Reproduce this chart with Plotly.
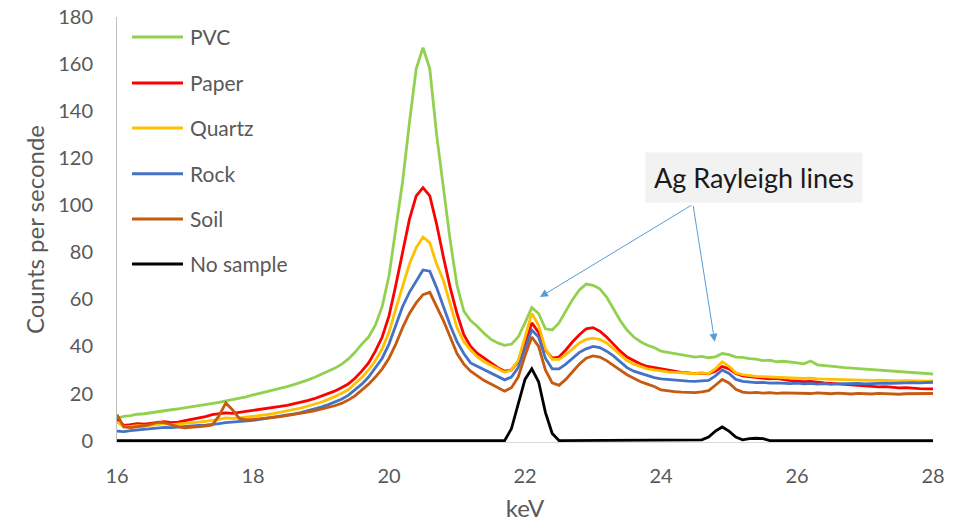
import plotly.graph_objects as go

# Energy axis (keV), 0.1 keV steps from 16 to 28
kev = [round(16 + 0.1 * i, 1) for i in range(121)]

pvc = [
    9.5, 10.3, 10.6, 11.2, 11.4, 11.9, 12.3, 12.6, 13.1, 13.5,
    13.9, 14.4, 14.7, 15.3, 15.8, 16.2, 16.9, 17.4, 17.9, 18.6,
    19.4, 20.1, 20.6, 21.4, 22.1, 22.9, 23.8, 24.6, 25.7, 26.8,
    28.0, 29.3, 30.7, 32.4, 34.6, 37.5, 41.0, 44.0, 49.0, 57.0,
    70, 90, 110, 135, 158, 167, 158, 130, 108, 85,
    66, 55, 51, 48.5, 45.5, 43, 41.5, 40.5, 41, 44,
    50, 56.5, 54, 47.5, 47, 50, 55, 60, 64, 66.5,
    66, 64.5, 61, 56, 51, 47, 44, 42, 40.5, 39.5,
    38, 37.5, 37, 36.5, 36.2, 35.5, 35.8, 35.2, 35.6, 37,
    36.5, 35.5, 35.4, 34.8, 34.6, 34, 34.2, 33.5, 33.7, 33.2,
    33, 32.6, 33.8, 32.2, 32, 31.6, 31.3, 31, 30.8, 30.5,
    30.2, 30, 29.8, 29.5, 29.4, 29.1, 28.9, 28.8, 28.5, 28.4,
    28.3]

paper = [
    9.0, 6.5, 6.8, 7.2, 7.0, 7.4, 7.9, 8.0, 7.6, 7.8,
    8.5, 9.0, 9.5, 10.2, 11.0, 11.4, 11.8, 11.6, 12.0, 12.3,
    12.6, 13.0, 13.5, 13.9, 14.5, 15.0, 15.6, 16.3, 17.0, 17.8,
    18.8, 19.8, 21.0, 22.5, 24.0, 26.5, 29.5, 33, 38, 44,
    53, 66, 80, 94, 104, 107.5, 104, 92, 78, 65,
    54, 45, 40, 37, 35, 33, 31, 29.5, 30, 33.5,
    41, 50, 46, 38.5, 35, 35.5, 38.5, 42, 45, 47.5,
    48, 46.5, 44, 41, 38, 35.5, 34, 32.5, 31.5, 31,
    30.2, 29.8, 29.3, 29, 28.8, 28.5, 28.7, 28.4, 29.5, 31.5,
    30.5, 28.5, 27.5, 27.2, 26.8, 26.5, 26.2, 26.4, 25.8, 25.5,
    25.3, 25, 25.2, 24.7, 24.5, 24.3, 24, 23.8, 23.7, 23.5,
    23.2, 23, 22.8, 22.9, 22.6, 22.4, 22.5, 22.2, 22.1, 22,
    22]

quartz = [
    8.0, 5.8, 6.0, 6.3, 6.2, 6.6, 7.0, 7.2, 6.8, 7.0,
    7.2, 7.5, 7.8, 8.2, 8.5, 9.0, 9.6, 9.4, 9.6, 9.9,
    10.2, 10.6, 11.0, 11.5, 12.0, 12.6, 13.2, 13.8, 14.6, 15.4,
    16.3, 17.4, 18.6, 20, 21.6, 24, 26.8, 30, 34, 39,
    46, 56, 66, 75, 82, 86.5, 84, 75, 68, 58,
    48, 42, 38.5, 35.5, 33.5, 32, 30.5, 29, 30, 34,
    44, 54, 49, 39, 34.5, 34.5, 36.5, 39, 41.5, 43,
    43.5, 43, 41.5, 39, 36.5, 34, 32.5, 31.5, 30.5, 30,
    29.5, 29.2, 29, 28.8, 28.6, 28.4, 28.8, 28.5, 30.5, 33.5,
    31.5, 28.8, 28, 27.6, 27.3, 27.2, 27, 26.8, 26.9, 26.6,
    26.5, 26.4, 26.5, 26.2, 26.1, 26, 25.9, 26, 25.8, 25.7,
    25.8, 25.6, 25.7, 25.5, 25.6, 25.4, 25.5, 25.3, 25.4, 25.3,
    25.4]

rock = [
    4.0, 3.8, 4.2, 4.5, 4.8, 5.0, 5.4, 5.6, 5.5, 5.8,
    6.0, 6.3, 6.5, 6.6, 6.8, 7.2, 7.6, 7.8, 8.0, 8.2,
    8.6, 9.0, 9.4, 9.8, 10.3, 10.8, 11.3, 11.9, 12.6, 13.4,
    14.2, 15.2, 16.3, 17.6, 19.2, 21.5, 24, 27, 31, 35,
    41, 49, 57, 63, 68, 72.5, 72, 65, 57, 49,
    42, 37, 33, 31.5, 30, 28.5, 27, 25.8, 27, 31,
    39, 47, 44, 35, 30.5, 30.5, 32.5, 35, 37.5, 39,
    40, 39.5, 38, 36, 33.5, 31, 29.5, 28.5, 27.5, 26.8,
    26.2, 25.9, 25.6, 25.4, 25.3, 25.2, 25.5, 25.6, 27.5, 30,
    28.5, 26, 25.2, 24.8, 24.6, 24.7, 24.4, 24.5, 24.3, 24.2,
    24.4, 24.1, 24.3, 24.0, 24.2, 23.9, 24.1, 24.2, 24, 24.3,
    24.1, 24.3, 24.2, 24.4, 24.3, 24.5, 24.4, 24.6, 24.5, 24.7,
    24.8]

soil = [
    11.0, 5.8, 5.5, 5.8, 6.3, 7.0, 7.8, 7.6, 6.8, 5.8,
    5.4, 5.6, 5.8, 6.2, 6.6, 10.5, 16.0, 13.0, 9.4, 8.8,
    9.0, 9.2, 9.5, 9.9, 10.2, 10.6, 11.0, 11.5, 12.1, 12.6,
    13.3, 14.0, 14.8, 15.8, 17.2, 19, 21.5, 24, 27, 30.5,
    35, 41, 48, 54, 58.5, 62, 63, 57, 51, 44,
    37, 32.5, 29.5, 27.5, 25.5, 24, 22.5, 21, 22.5, 27,
    36, 44, 40, 30, 24.5, 23.5, 26, 29.5, 32.5, 35,
    36, 35.5, 34, 32, 30, 28, 26.5, 25, 24, 23,
    21.5, 21, 20.8, 20.6, 20.5, 20.4, 20.7, 21.2, 23.5, 26,
    24.5, 21.8, 20.6, 20.3, 20.5, 20.2, 20.4, 20.1, 20.3, 20.2,
    20.4, 20.1, 20.0, 20.3, 20.1, 19.9, 20.2, 20.0, 19.8, 20.1,
    20.0, 19.8, 20.1, 19.9, 20.0, 19.7, 19.9, 20.0, 19.8, 19.9,
    20.0]

no_sample = [
    0, 0, 0, 0, 0, 0, 0, 0, 0, 0,
    0, 0, 0, 0, 0, 0, 0, 0, 0, 0,
    0, 0, 0, 0, 0, 0, 0, 0, 0, 0,
    0, 0, 0, 0, 0, 0, 0, 0, 0, 0,
    0, 0, 0, 0, 0, 0, 0, 0, 0, 0,
    0, 0, 0, 0, 0, 0, 0, 0, 5, 15,
    26, 30.5, 25, 12, 3, 0, 0, 0, 0, 0,
    0, 0, 0, 0, 0, 0, 0, 0, 0, 0,
    0, 0, 0, 0, 0, 0, 0.3, 1.5, 4, 5.8,
    4, 1.5, 0.3, 0.8, 1, 0.8, 0, 0, 0, 0,
    0, 0, 0, 0, 0, 0, 0, 0, 0, 0,
    0, 0, 0, 0, 0, 0, 0, 0, 0, 0,
    0]

series_names = ["PVC", "Paper", "Quartz", "Rock", "Soil", "No sample"]
series_values = [pvc, paper, quartz, rock, soil, no_sample]
series_colors = ["#92d050", "#ff0000", "#ffc000", "#4472c4", "#c55a11", "#000000"]

x_ticks = [16, 18, 20, 22, 24, 26, 28]
y_ticks = [0, 20, 40, 60, 80, 100, 120, 140, 160, 180]

annotation_text = "Ag Rayleigh lines"
arrow_tail = (24.47, 100.4)
arrow_tips = [(22.22, 61.0), (24.79, 42.0)]
label_pos = (25.37, 112.0)

FONT = "Lato"
GREY = "#595959"

fig = go.Figure()
for name, vals, col in zip(series_names, series_values, series_colors):
    fig.add_trace(go.Scatter(x=kev, y=vals, mode="lines", name=name,
                             line=dict(color=col, width=2.8), showlegend=False))

# Custom legend (line samples + labels) in paper coordinates
leg_y = [0.953, 0.845, 0.739, 0.631, 0.525, 0.419]
shapes = []
annotations = []
for name, col, yy in zip(series_names, series_colors, leg_y):
    shapes.append(dict(type="line", xref="paper", yref="paper",
                       x0=0.0184, x1=0.0809, y0=yy, y1=yy,
                       line=dict(color=col, width=3)))
    annotations.append(dict(xref="paper", yref="paper", x=0.0875, y=yy,
                            text=name, showarrow=False, xanchor="left",
                            yanchor="middle",
                            font=dict(family=FONT, size=21, color=GREY)))

annotations.append(dict(x=label_pos[0], y=label_pos[1], xref="x", yref="y",
                        text=annotation_text, showarrow=False,
                        bgcolor="#f2f2f2", borderpad=8,
                        font=dict(family=FONT, size=27, color="#1a1a1a")))
for tx, ty in arrow_tips:
    annotations.append(dict(x=tx, y=ty, xref="x", yref="y",
                            ax=arrow_tail[0], ay=arrow_tail[1],
                            axref="x", ayref="y", text="", showarrow=True,
                            arrowhead=2, arrowsize=1.6, arrowwidth=1,
                            arrowcolor="#5b9bd5", standoff=0, startstandoff=0))

fig.update_layout(
    width=964, height=523,
    margin=dict(l=117, r=31, t=17, b=81),
    paper_bgcolor="white", plot_bgcolor="white",
    font=dict(family=FONT, color=GREY),
    shapes=shapes, annotations=annotations,
    showlegend=False,
)
fig.update_xaxes(range=[16, 28], tickvals=x_ticks, showgrid=False,
                 zeroline=False, showline=True, linecolor="#d9d9d9",
                 linewidth=1, ticks="", ticklabelstandoff=16, automargin=False,
                 tickfont=dict(family=FONT, size=20, color=GREY),
                 title=dict(text="keV", font=dict(family=FONT, size=24, color=GREY),
                            standoff=14))
fig.update_yaxes(range=[-0.6, 180], tickvals=y_ticks, showgrid=False,
                 zeroline=False, showline=True, linecolor="#bfbfbf",
                 linewidth=1, ticks="", ticklabelstandoff=19, automargin=False,
                 tickfont=dict(family=FONT, size=20, color=GREY),
                 title=dict(text="Counts per seconde",
                            font=dict(family=FONT, size=24, color=GREY),
                            standoff=6))

fig.write_html("out.html")
